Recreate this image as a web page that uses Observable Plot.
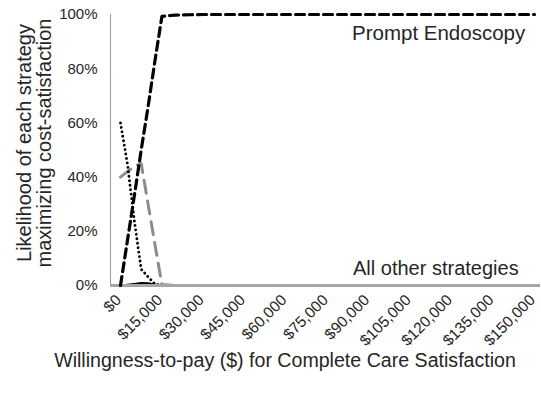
<!DOCTYPE html>
<html>
<head>
<meta charset="utf-8">
<script src="https://cdn.jsdelivr.net/npm/d3@7"></script>
<script src="https://cdn.jsdelivr.net/npm/@observablehq/plot@0.6"></script>
<style>
  html, body { margin: 0; padding: 0; background: #fff; }
  #chart svg { display: block; }
</style>
</head>
<body>
<div id="chart"></div>
<script>
// Willingness-to-pay values (x)
const wtp = [0, 2500, 5000, 7500, 10000, 12500, 15000, 17500, 20000, 25000, 30000, 45000, 60000, 75000, 90000, 105000, 120000, 135000, 150000];
// Likelihood of each strategy maximizing cost-satisfaction
const promptEndoscopy = [0, 0.165, 0.33, 0.50, 0.66, 0.83, 0.993, 0.996, 0.998, 0.999, 1, 1, 1, 1, 1, 1, 1, 1, 1];
const dottedStrategy = [0.60, 0.45, 0.24, 0.06, 0.032, 0.005, 0, 0, 0, 0, 0, 0, 0, 0, 0, 0, 0, 0, 0];
const grayDashedStrategy = [0.40, 0.42, 0.44, 0.45, 0.30, 0.15, 0.004, 0.002, 0, 0, 0, 0, 0, 0, 0, 0, 0, 0, 0];
const solidStrategy = [0, 0.003, 0.006, 0.009, 0.008, 0.004, 0.001, 0, 0, 0, 0, 0, 0, 0, 0, 0, 0, 0, 0];

const xTicks = [0, 15000, 30000, 45000, 60000, 75000, 90000, 105000, 120000, 135000, 150000];
const yTicks = [0, 0.2, 0.4, 0.6, 0.8, 1.0];

const xTitle = "Willingness-to-pay ($) for Complete Care Satisfaction";
const yTitleLines = ["Likelihood of each strategy", "maximizing cost-satisfaction"];
const labelPrompt = "Prompt Endoscopy";
const labelOthers = "All other strategies";

const toRows = (vals) => wtp.map((x, i) => ({x, y: vals[i]}));

const xDomain = [-3623, 152174];
const font = "'Liberation Sans', Arial, sans-serif";
const textColor = "#262626";
const axisColor = "#a6a6a6";

const plot = Plot.plot({
  width: 541,
  height: 397,
  marginLeft: 110,
  marginRight: 1,
  marginTop: 14,
  marginBottom: 112,
  style: {fontFamily: font, color: textColor, background: "#fff"},
  x: {type: "linear", domain: xDomain},
  y: {domain: [0, 1]},
  marks: [
    Plot.axisX({ticks: xTicks, tickFormat: d => "$" + d3.format(",")(d), tickSize: 0, tickPadding: 12, tickRotate: -45, fontSize: 15.5, label: null, fill: textColor, dx: -2}),
    Plot.axisY({ticks: yTicks, tickFormat: d3.format(".0%"), tickSize: 0, tickPadding: 13, fontSize: 15, label: null, fill: textColor}),
    Plot.ruleX([xDomain[0]], {stroke: axisColor, strokeWidth: 1.2}),
    Plot.line(toRows(solidStrategy), {x: "x", y: "y", stroke: "#000", strokeWidth: 2}),
    Plot.line(toRows(grayDashedStrategy), {x: "x", y: "y", stroke: "#8c8c8c", strokeWidth: 3, strokeDasharray: "13,8"}),
    Plot.line(toRows(dottedStrategy), {x: "x", y: "y", stroke: "#000", strokeWidth: 2.8, strokeDasharray: "0.1,4.4", strokeLinecap: "round"}),
    Plot.ruleY([0], {stroke: axisColor, strokeWidth: 3}),
    Plot.line(toRows(promptEndoscopy), {x: "x", y: "y", stroke: "#000", strokeWidth: 3.2, strokeDasharray: "9,5"})
  ]
});

const svg = d3.select(plot);
svg.append("text")
  .attr("x", 352).attr("y", 40).attr("text-anchor", "start")
  .attr("font-size", 20.5).attr("font-family", font).attr("fill", textColor)
  .text(labelPrompt);
svg.append("text")
  .attr("x", 353).attr("y", 275).attr("text-anchor", "start")
  .attr("font-size", 20).attr("font-family", font).attr("fill", textColor)
  .text(labelOthers);
svg.append("text")
  .attr("x", 285).attr("y", 367)
  .attr("text-anchor", "middle")
  .attr("font-size", 19.6).attr("font-family", font).attr("fill", textColor)
  .text(xTitle);
const yt = svg.append("text")
  .attr("transform", "translate(0,143) rotate(-90)")
  .attr("text-anchor", "middle")
  .attr("font-size", 20).attr("font-family", font).attr("fill", textColor);
yt.append("tspan").attr("x", 0).attr("y", 31).text(yTitleLines[0]);
yt.append("tspan").attr("x", 0).attr("y", 51).text(yTitleLines[1]);

document.getElementById("chart").appendChild(plot);
</script>
</body>
</html>
